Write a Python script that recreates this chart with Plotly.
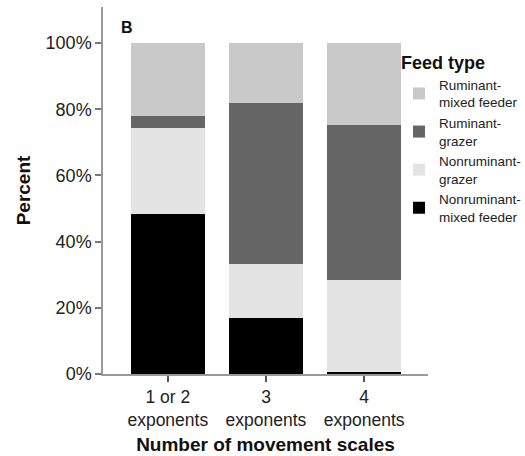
import plotly.graph_objects as go

categories = ["1 or 2<br>exponents", "3<br>exponents", "4<br>exponents"]
nonruminant_mixed = [48.2, 16.8, 0.5]
nonruminant_grazer = [26.0, 16.3, 27.9]
ruminant_grazer = [3.8, 48.9, 46.8]
ruminant_mixed = [22.0, 18.0, 24.8]

series_names = ["Nonruminant-<br>mixed feeder", "Nonruminant-<br>grazer",
                "Ruminant-<br>grazer", "Ruminant-<br>mixed feeder"]
series_values = [nonruminant_mixed, nonruminant_grazer, ruminant_grazer, ruminant_mixed]
series_colors = ["#000000", "#e3e3e3", "#656565", "#c9c9c9"]

y_tickvals = [0, 20, 40, 60, 80, 100]
y_ticktext = ["0%", "20%", "40%", "60%", "80%", "100%"]

fig = go.Figure()
for name, vals, col in zip(series_names, series_values, series_colors):
    fig.add_trace(go.Bar(x=[0, 1, 2], y=vals, name=name,
                         marker=dict(color=col, line=dict(width=0)),
                         width=0.755))

FONT = "Liberation Sans, Arial, sans-serif"
fig.update_layout(
    width=525, height=456,
    barmode="stack",
    plot_bgcolor="white", paper_bgcolor="white",
    margin=dict(l=103, r=97, t=7, b=82, autoexpand=False),
    font=dict(family=FONT, color="#222222"),
    showlegend=True,
    legend=dict(
        traceorder="reversed",
        xref="container", yref="container",
        x=399 / 525, xanchor="left", y=1 - 46 / 456, yanchor="top",
        font=dict(size=13.5, color="#222222", family=FONT),
        title=dict(text="<b>Feed type</b>", font=dict(size=18, color="#111111", family=FONT)),
        bgcolor="rgba(0,0,0,0)",
    ),
    xaxis=dict(
        range=[-0.66, 2.65],
        tickvals=[0, 1, 2], ticktext=categories,
        tickfont=dict(size=17.5, color="#222222"),
        ticks="outside", ticklen=6, tickcolor="#555555", tickwidth=1.5,
        showline=True, linecolor="#9a9a9a", linewidth=1.5,
        showgrid=False, zeroline=False, automargin=False,
        title=dict(text="<b>Number of movement scales</b>", font=dict(size=19, color="#111111"), standoff=9),
    ),
    yaxis=dict(
        range=[0, 110.9],
        tickvals=y_tickvals, ticktext=y_ticktext,
        tickfont=dict(size=18, color="#222222"),
        ticks="outside", ticklen=6, tickcolor="#777777", tickwidth=1.5,
        showline=True, linecolor="#9a9a9a", linewidth=1.5,
        showgrid=False, zeroline=False, automargin=False,
        title=dict(text="<b>Percent</b>", font=dict(size=19, color="#111111"), standoff=10),
    ),
    annotations=[dict(text="<b>B</b>", xref="paper", yref="paper", x=0.05, y=0.943,
                      xanchor="left", yanchor="middle", showarrow=False,
                      font=dict(size=16, color="#111111"))],
)

fig.write_html("out.html", config={"displayModeBar": False},
               post_script="document.body.style.margin='0px';")
